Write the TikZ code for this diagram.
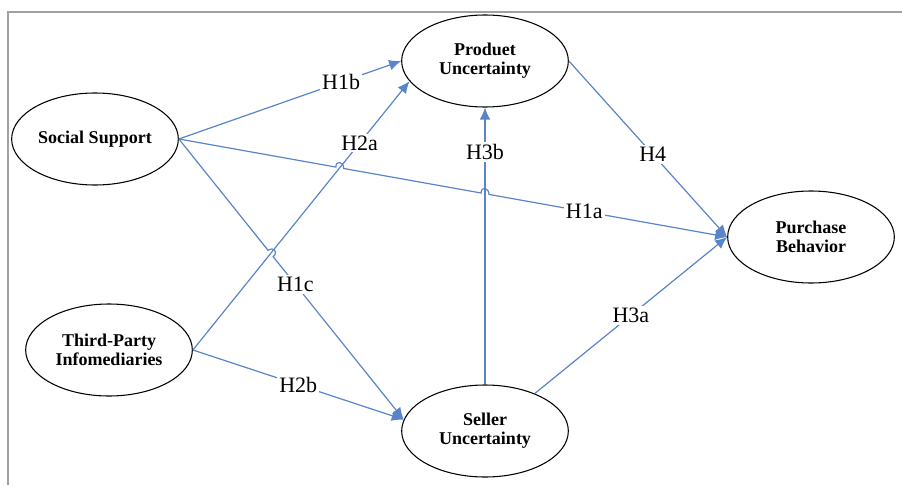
\documentclass[tikz,border=0pt]{standalone}
\usepackage{fontspec}
\setmainfont{Liberation Serif}
\usetikzlibrary{arrows.meta,shapes.geometric,calc}
\definecolor{pathblue}{RGB}{88,132,201}
\definecolor{framegray}{RGB}{160,160,160}

\begin{document}
\begin{tikzpicture}[x=0.75pt, y=-0.75pt,
    construct/.style={draw, ellipse, line width=0.8pt, inner sep=0pt, minimum width=125pt, minimum height=69pt, align=center, font=\bfseries\fontsize{13.5}{14}\selectfont},
    hyp/.style={draw=pathblue, line width=0.9pt, -{Latex[length=9pt,width=8pt]}},
    hlabel/.style={fill=white, inner sep=1.5pt, font=\fontsize{16.5}{18}\selectfont}]
    \useasboundingbox (0,0) rectangle (902,485);
    \draw[framegray, line width=1.5pt] (8,485) -- (8,12) -- (902,12);

    \node (SS) [construct] at (95,139) {Social Support};
    \node (PU) [construct] at (485,61) {Produet\\Uncertainty};
    \node (PB) [construct] at (811,237) {Purchase\\Behavior};
    \node (TP) [construct] at (109,350) {Third-Party\\Infomediaries};
    \node (SU) [construct] at (485,431) {Seller\\Uncertainty};

    % crossing points for the line hops
    \coordinate (x1) at (intersection of SS.east--PB.west and TP.east--PU.195);
    \coordinate (x2) at (intersection of SS.east--PB.west and SU.north--PU.south);
    \coordinate (x3) at (intersection of SS.east--SU.172 and TP.east--PU.195);

    \draw[hyp] (SS.east) -- node[hlabel, pos=0.73] {H1b} (PU.west);
    \draw[hyp] (TP.east) -- node[hlabel, pos=0.77] {H2a} (PU.195);
    \draw[hyp] (SU.north) -- node[hlabel, pos=0.84] {H3b} (PU.south);
    \draw[hyp] (SS.east) -- ($(x1)!3pt!(SS.east)$) .. controls +(0,-7) and +(0,-7) .. ($(x1)!3pt!(PB.west)$)
        -- ($(x2)!3pt!(SS.east)$) .. controls +(0,-7) and +(0,-7) .. ($(x2)!3pt!(PB.west)$)
        -- node[hlabel, pos=0.4] {H1a} (PB.west);
    \draw[hyp] (SS.east) -- ($(x3)!3pt!(SS.east)$) .. controls +(5.5,-4.3) and +(5.5,-4.3) .. ($(x3)!3pt!(SU.172)$)
        -- node[hlabel, pos=0.17] {H1c} (SU.172);
    \draw[hyp] (TP.east) -- node[hlabel, pos=0.5] {H2b} (SU.172);
    \draw[hyp] (SU.37) -- node[hlabel, pos=0.5] {H3a} (PB.west);
    \draw[hyp] (PU.east) -- node[hlabel, pos=0.53] {H4} (PB.west);
\end{tikzpicture}
\end{document}
